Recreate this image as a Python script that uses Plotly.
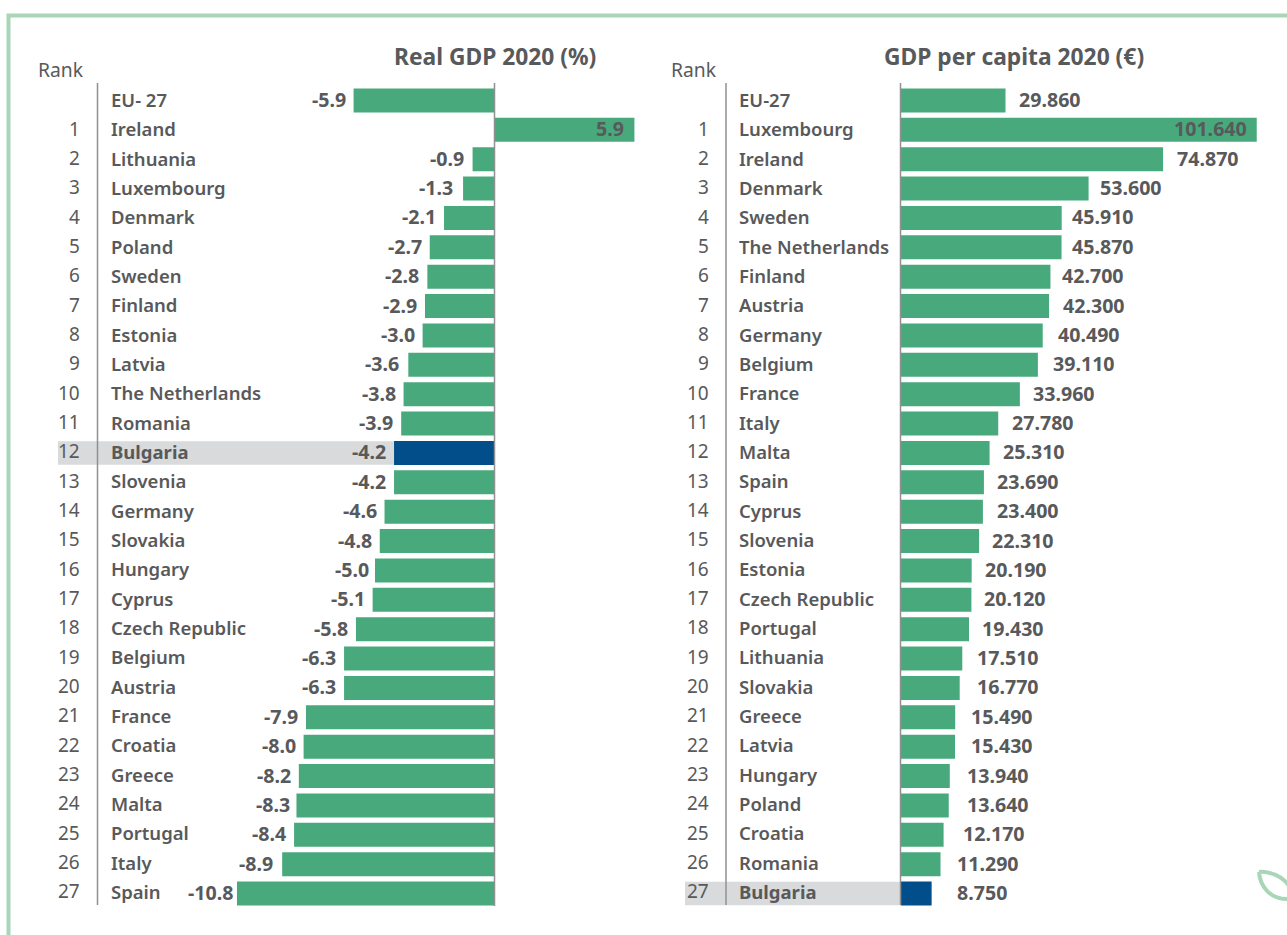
import plotly.graph_objects as go

W, H = 1287, 935
GREEN = "#48A97C"
BLUE = "#024E8A"
TEXT = "#58595B"
AXIS = "#8F9091"
BAND = "#D9DADC"
FRAME = "#A9D6B9"
FONT = "Noto Sans"

# Real GDP growth, 2020 (%)
growth_names = ["EU- 27", "Ireland", "Lithuania", "Luxembourg", "Denmark", "Poland", "Sweden",
                "Finland", "Estonia", "Latvia", "The Netherlands", "Romania", "Bulgaria",
                "Slovenia", "Germany", "Slovakia", "Hungary", "Cyprus", "Czech Republic",
                "Belgium", "Austria", "France", "Croatia", "Greece", "Malta", "Portugal",
                "Italy", "Spain"]
growth_values = [-5.9, 5.9, -0.9, -1.3, -2.1, -2.7, -2.8, -2.9, -3.0, -3.6, -3.8, -3.9, -4.2,
                 -4.2, -4.6, -4.8, -5.0, -5.1, -5.8, -6.3, -6.3, -7.9, -8.0, -8.2, -8.3,
                 -8.4, -8.9, -10.8]

# GDP per capita, 2020 (EUR)
capita_names = ["EU-27", "Luxembourg", "Ireland", "Denmark", "Sweden", "The Netherlands",
                "Finland", "Austria", "Germany", "Belgium", "France", "Italy", "Malta", "Spain",
                "Cyprus", "Slovenia", "Estonia", "Czech Republic", "Portugal", "Lithuania",
                "Slovakia", "Greece", "Latvia", "Hungary", "Poland", "Croatia", "Romania",
                "Bulgaria"]
capita_values = [29860, 101640, 74870, 53600, 45910, 45870, 42700, 42300, 40490, 39110, 33960,
                 27780, 25310, 23690, 23400, 22310, 20190, 20120, 19430, 17510, 16770, 15490,
                 15430, 13940, 13640, 12170, 11290, 8750]

rank_labels = [""] + [str(i) for i in range(1, 28)]

# Spacing in pixels between each bar end and its value label
growth_gaps = [8, -10, 9, 10, 8, 8, 8, 8, 8, 9, 8, 8, 8, 8, 8, 8, 6, 8, 8, 8, 8, 8, 8, 8, 6, 8, 9, 4]
capita_gaps = [13, -10, 14, 11, 10, 10, 12, 14, 15, 15, 13, 14, 13, 13, 14, 13, 13, 13, 13, 15,
               17, 16, 16, 17, 18, 19, 16, 25]

ROWS = list(range(28))
ROW_TOP, ROW_BOTTOM = 85.8, 908.2          # pixel extent of the category band
LEFT_ZERO, LEFT_SCALE = 494.0, 23.8        # pixel of 0, pixels per percentage point
RIGHT_ZERO, RIGHT_SCALE = 901.0, 0.0035    # pixel of 0, pixels per euro
LEFT_SPAN = (232.0, 640.0)
RIGHT_SPAN = (901.0, 1287.0)


def px(x):
    return x / W


def py(y):
    return 1 - y / H


def bar_colors(names):
    return [BLUE if n == "Bulgaria" else GREEN for n in names]


fig = go.Figure()
fig.add_bar(x=growth_values, y=ROWS, orientation="h", xaxis="x", yaxis="y",
            marker=dict(color=bar_colors(growth_names), line_width=0), hoverinfo="x+y")
fig.add_bar(x=capita_values, y=ROWS, orientation="h", xaxis="x2", yaxis="y2",
            marker=dict(color=bar_colors(capita_names), line_width=0), hoverinfo="x+y")

annotations = []


def label(text, x, y, xref="paper", yref="paper", anchor="left", size=18.5, weight=600,
          color=TEXT, xshift=0, yshift=0):
    annotations.append(dict(text=text, x=x, y=y, xref=xref, yref=yref, xanchor=anchor,
                            yanchor="middle", showarrow=False, borderpad=0, borderwidth=0,
                            xshift=xshift, yshift=yshift,
                            font=dict(family=FONT, size=size, color=color, weight=weight)))


def panel(names, values, gaps, yref, xref, rank_x, name_x, fmt):
    for row, (name, value, gap, rank) in enumerate(zip(names, values, gaps, rank_labels)):
        drift = 1.0 + row * 0.04
        label(rank, px(rank_x), row, yref=yref, anchor="right", weight=400, size=19, yshift=drift)
        label(name, px(name_x), row, yref=yref, weight=700 if name == "Bulgaria" else 600, yshift=drift)
        text = fmt(value)
        if value < 0:
            label(text, value, row, xref=xref, yref=yref, anchor="right", weight=700, size=19.6,
                  xshift=-gap, yshift=1)
        else:
            label(text, value, row, xref=xref, yref=yref, size=19.6,
                  anchor="right" if gap < 0 else "left", weight=700, xshift=gap, yshift=1)


panel(growth_names, growth_values, growth_gaps, "y", "x", 80, 111, lambda v: f"{v:.1f}")
panel(capita_names, capita_values, capita_gaps, "y2", "x2", 709, 739,
      lambda v: f"{v:,}".replace(",", "."))

label("Rank", px(38), py(70), weight=400, size=19.3)
label("Rank", px(671), py(70), weight=400, size=19.3)
label("Real GDP 2020 (%)", px(494.5), py(57), anchor="center", weight=700, size=22.8)
label("GDP per capita 2020 (€)", px(1014), py(57), anchor="center", weight=700, size=22.8)

line = dict(color=AXIS, width=1.5)
shapes = [
    # highlighted Bulgaria rows
    dict(type="rect", layer="below", xref="paper", yref="y", x0=px(58), x1=px(394),
         y0=11.6, y1=12.4, fillcolor=BAND, line_width=0),
    dict(type="rect", layer="below", xref="paper", yref="y2", x0=px(685), x1=px(901),
         y0=26.6, y1=27.4, fillcolor=BAND, line_width=0),
    # rank / name separators and zero lines
    dict(type="line", xref="paper", yref="paper", x0=px(97.5), x1=px(97.5), y0=py(83), y1=py(905), line=line),
    dict(type="line", xref="paper", yref="paper", x0=px(494.5), x1=px(494.5), y0=py(83), y1=py(906), line=line),
    dict(type="line", xref="paper", yref="paper", x0=px(726), x1=px(726), y0=py(83), y1=py(905), line=line),
    dict(type="line", xref="paper", yref="paper", x0=px(900.5), x1=px(900.5), y0=py(83), y1=py(905), line=line),
    # page frame, open past the right and bottom edges
    dict(type="path", layer="below", xref="paper", yref="paper",
         path=f"M {px(8.5)} {py(H + 5)} L {px(8.5)} {py(15.5)} L {px(W + 5)} {py(15.5)}",
         line=dict(color=FRAME, width=4)),
    # leaf ornament
    dict(type="path", xref="paper", yref="paper",
         path=(f"M {px(1259)} {py(872)} C {px(1260)} {py(886)} {px(1270)} {py(900)} {px(1289)} {py(899)} "
               f"M {px(1259)} {py(872)} C {px(1269)} {py(871)} {px(1283)} {py(876)} {px(1289)} {py(886)}"),
         line=dict(color=FRAME, width=4)),
]

fig.update_layout(
    width=W, height=H, autosize=False, margin=dict(l=0, r=0, t=0, b=0),
    paper_bgcolor="white", plot_bgcolor="rgba(0,0,0,0)", showlegend=False,
    bargap=0.183, annotations=annotations, shapes=shapes,
    xaxis=dict(domain=[px(LEFT_SPAN[0]), px(LEFT_SPAN[1])], visible=False, anchor="y",
               range=[(LEFT_SPAN[0] - LEFT_ZERO) / LEFT_SCALE, (LEFT_SPAN[1] - LEFT_ZERO) / LEFT_SCALE]),
    yaxis=dict(domain=[py(ROW_BOTTOM), py(ROW_TOP)], range=[27.5, -0.5], visible=False, anchor="x"),
    xaxis2=dict(domain=[px(RIGHT_SPAN[0]), px(RIGHT_SPAN[1])], visible=False, anchor="y2",
                range=[(RIGHT_SPAN[0] - RIGHT_ZERO) / RIGHT_SCALE, (RIGHT_SPAN[1] - RIGHT_ZERO) / RIGHT_SCALE]),
    yaxis2=dict(domain=[py(ROW_BOTTOM), py(ROW_TOP)], range=[27.5, -0.5], visible=False, anchor="x2"),
)

fig.write_html("out.html", config=dict(displayModeBar=False))
